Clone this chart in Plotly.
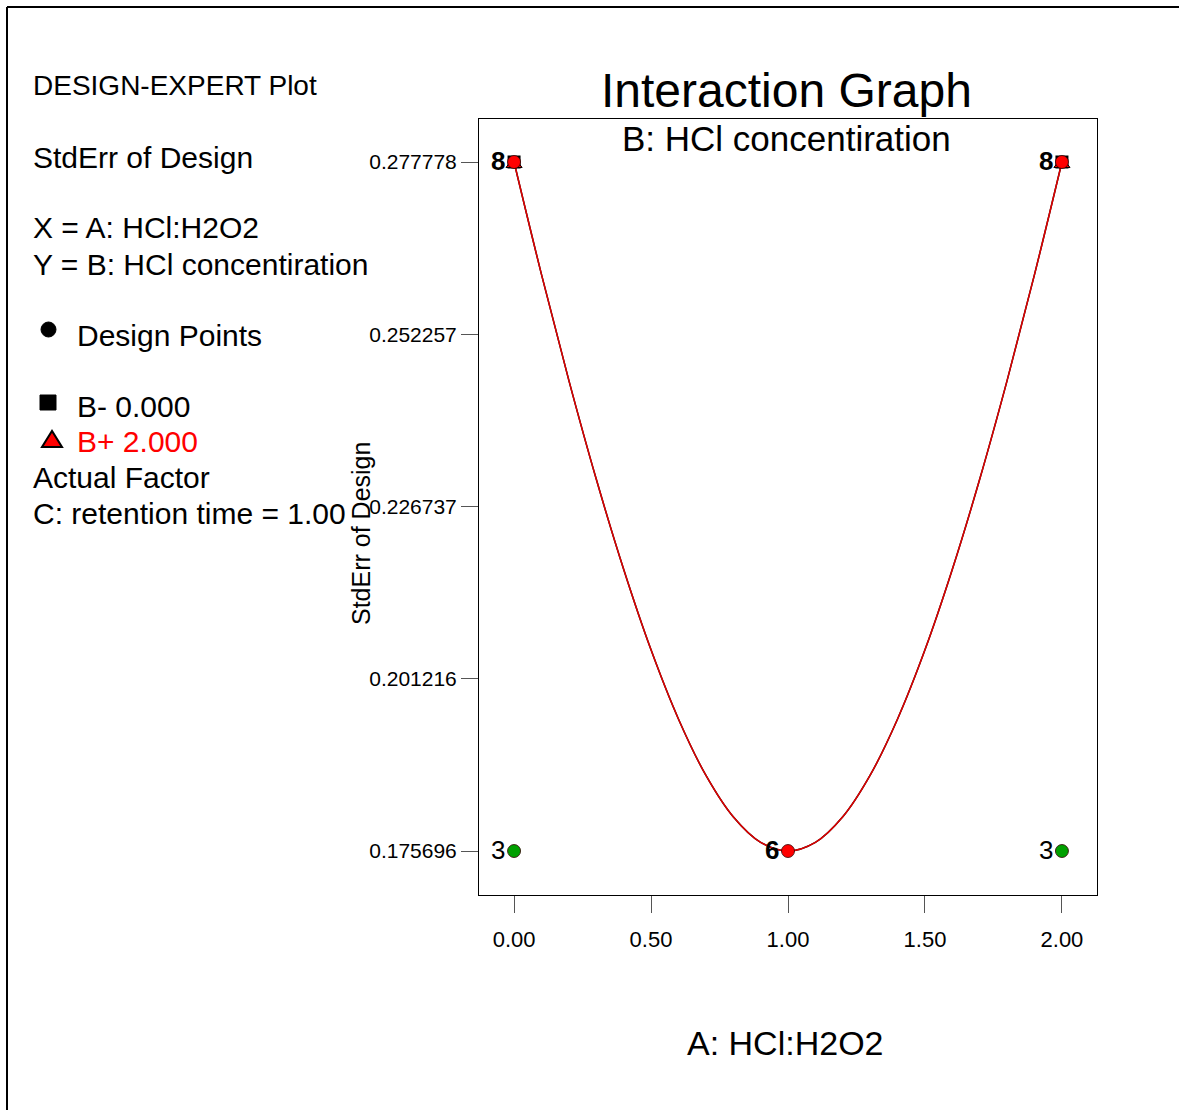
import plotly.graph_objects as go

# Factor A levels along the curve and the StdErr of Design read at each
a_levels = [0.0, 0.1, 0.2, 0.3, 0.4, 0.5, 0.6, 0.7, 0.8, 0.9, 1.0,
            1.1, 1.2, 1.3, 1.4, 1.5, 1.6, 1.7, 1.8, 1.9, 2.0]
stderr_b_minus = [0.277778, 0.26113, 0.24542, 0.23080, 0.21744, 0.20550, 0.19526,
                  0.18693, 0.18077, 0.17698, 0.175696, 0.17698, 0.18077, 0.18693,
                  0.19526, 0.20550, 0.21744, 0.23080, 0.24542, 0.26113, 0.277778]
stderr_b_plus = list(stderr_b_minus)

# Design points: (A, StdErr, replicate count, colour)
design_a = [0.0, 2.0, 0.0, 1.0, 2.0]
design_se = [0.277778, 0.277778, 0.175696, 0.175696, 0.175696]
design_n = ["8", "8", "3", "6", "3"]
design_bold = [True, True, False, True, False]
design_color = ["#FF0000", "#FF0000", "#00A000", "#FF0000", "#00A000"]

# B- / B+ end points at the factorial corners
end_a = [0.0, 2.0]
end_se = [0.277778, 0.277778]

x_ticks = [0.0, 0.5, 1.0, 1.5, 2.0]
x_tick_text = ["0.00", "0.50", "1.00", "1.50", "2.00"]
y_ticks = [0.175696, 0.201216, 0.226737, 0.252257, 0.277778]
y_tick_text = ["0.175696", "0.201216", "0.226737", "0.252257", "0.277778"]

W, H = 1179, 1110
L, R, T, B = 479, 1097, 119, 895
FONT = "Liberation Sans, Arial, sans-serif"


def px(x):
    return (x - L) / (R - L)


def py(y):
    return (B - y) / (B - T)


fig = go.Figure()

fig.add_trace(go.Scatter(x=a_levels, y=stderr_b_minus, mode="lines", line_shape="spline",
                         line=dict(color="black", width=1.5), hoverinfo="skip"))
fig.add_trace(go.Scatter(x=a_levels, y=stderr_b_plus, mode="lines", line_shape="spline",
                         line=dict(color="#E00000", width=1.5), hoverinfo="skip"))

fig.add_trace(go.Scatter(x=end_a, y=end_se, mode="markers",
                         marker=dict(symbol="square", size=13, color="black")))
fig.add_trace(go.Scatter(x=end_a, y=[v - 0.0003 for v in end_se], mode="markers",
                         marker=dict(symbol="triangle-up", size=14, color="#FF0000",
                                     line=dict(color="black", width=1))))
fig.add_trace(go.Scatter(x=design_a, y=design_se, mode="markers",
                         marker=dict(symbol="circle", size=13, color=design_color,
                                     line=dict(color="#300000", width=0.8))))

annotations = []
for a, se, n, bold in zip(design_a, design_se, design_n, design_bold):
    annotations.append(dict(x=a, y=se, xref="x", yref="y", text=f"<b>{n}</b>" if bold else n,
                            showarrow=False, xanchor="right", yanchor="middle",
                            xshift=-8, yshift=1, borderpad=0,
                            font=dict(family=FONT, size=26, color="black")))

left_text = [
    ("DESIGN-EXPERT Plot", 33, 86, "black", 28),
    ("StdErr of Design", 33, 157, "black", 30),
    ("X = A: HCl:H2O2", 33, 228, "black", 30),
    ("Y = B: HCl concentiration", 33, 264, "black", 30),
    ("Design Points", 77, 335, "black", 30),
    ("B- 0.000", 77, 406, "black", 30),
    ("B+ 2.000", 77, 441, "#FF0000", 30),
    ("Actual Factor", 33, 477, "black", 30),
    ("C: retention time = 1.00", 33, 513, "black", 30),
]
for txt, x0, y0, col, fs in left_text:
    annotations.append(dict(x=px(x0 - 2), y=py(y0), xref="paper", yref="paper", text=txt,
                            showarrow=False, xanchor="left", yanchor="middle",
                            font=dict(family=FONT, size=fs, color=col)))

annotations.append(dict(x=px(786), y=py(91), xref="paper", yref="paper",
                        text="Interaction Graph", showarrow=False,
                        xanchor="center", yanchor="middle",
                        font=dict(family=FONT, size=48, color="black")))
annotations.append(dict(x=px(786), y=py(138), xref="paper", yref="paper",
                        text="B: HCl concentiration", showarrow=False,
                        xanchor="center", yanchor="middle",
                        font=dict(family=FONT, size=35, color="black")))
annotations.append(dict(x=px(785), y=py(1043), xref="paper", yref="paper",
                        text="A: HCl:H2O2", showarrow=False,
                        xanchor="center", yanchor="middle",
                        font=dict(family=FONT, size=34, color="black")))
annotations.append(dict(x=px(361), y=py(534), xref="paper", yref="paper",
                        text="StdErr of Design", showarrow=False, textangle=-90,
                        xanchor="center", yanchor="middle",
                        font=dict(family=FONT, size=25, color="black")))

shapes = [
    # page frame (top and left edges)
    dict(type="line", xref="paper", yref="paper", x0=px(7), x1=px(W), y0=py(7), y1=py(7),
         line=dict(color="black", width=2)),
    dict(type="line", xref="paper", yref="paper", x0=px(7), x1=px(7), y0=py(7), y1=py(H),
         line=dict(color="black", width=2)),
    # legend symbols
    dict(type="circle", xref="paper", yref="paper", x0=px(41), x1=px(56), y0=py(322), y1=py(337),
         fillcolor="black", line=dict(color="black", width=1)),
    dict(type="rect", xref="paper", yref="paper", x0=px(40), x1=px(56), y0=py(395), y1=py(410),
         fillcolor="black", line=dict(color="black", width=1)),
    dict(type="path", xref="paper", yref="paper",
         path=f"M {px(42)} {py(447)} L {px(62)} {py(447)} L {px(52)} {py(431)} Z",
         fillcolor="#FF0000", line=dict(color="black", width=2)),
]

fig.update_layout(
    width=W, height=H,
    margin=dict(l=L, r=W - R, t=T, b=H - B, pad=0),
    paper_bgcolor="white", plot_bgcolor="white",
    showlegend=False,
    annotations=annotations,
    shapes=shapes,
    xaxis=dict(range=[-0.128, 2.128], tickvals=x_ticks, ticktext=x_tick_text,
               ticks="outside", ticklen=17, tickcolor="#555555", tickwidth=1,
               ticklabelstandoff=8,
               showline=True, linecolor="black", linewidth=1, mirror=True,
               showgrid=False, zeroline=False,
               tickfont=dict(family=FONT, size=22, color="black")),
    yaxis=dict(range=[0.16918, 0.284148], tickvals=y_ticks, ticktext=y_tick_text,
               ticks="outside", ticklen=17, tickcolor="#555555", tickwidth=1,
               showline=True, linecolor="black", linewidth=1, mirror=True,
               showgrid=False, zeroline=False,
               tickfont=dict(family=FONT, size=21, color="black")),
)

fig.write_html("out.html")
